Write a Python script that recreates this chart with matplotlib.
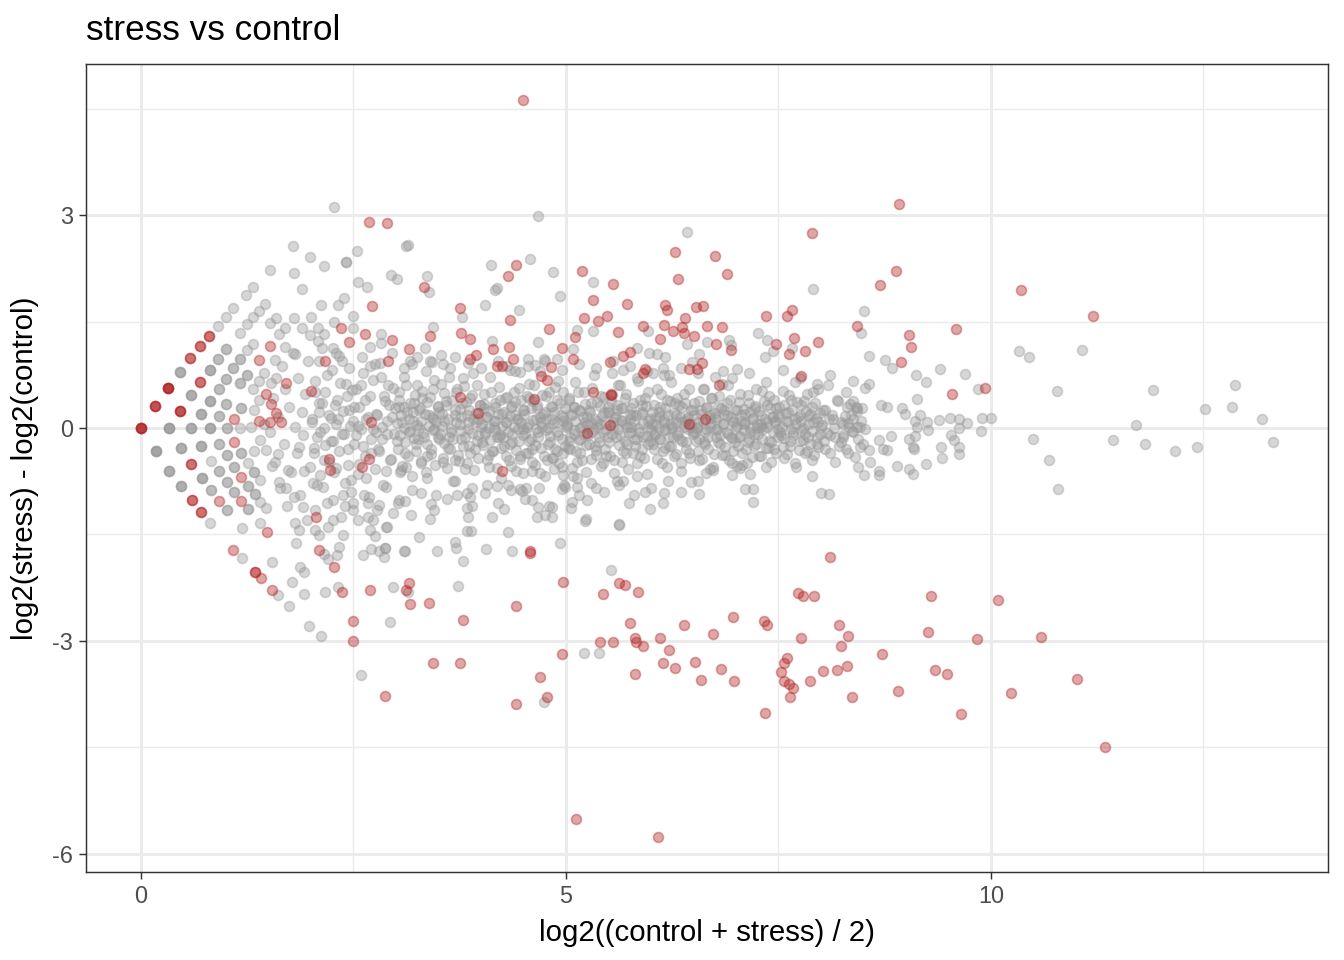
import numpy as np
import matplotlib
matplotlib.use("Agg")
import matplotlib.pyplot as plt

# ---------------- data (A = log2 mean, M = log2 fold change) ----------------
# discrete low-count lattice points (x, y, number of genes on that spot)
lat_gray_x = [0.18,0.33,0.47,0.33,0.59,0.71,0.47,0.72,0.81,0.92,0.92,1.01,1.01,1.09,1.01,1.18,1.09,1.01,1.26,1.26,1.33,1.40,1.47,1.33,1.26,1.40,1.34,1.40,1.47,1.40,0.82,0.82,0.81,1.19,1.19,
              0.46,0.59,0.81,0.81,0.71,0.91,1.00,1.08,1.00,0.92,1.00,0.92,1.16,1.25,1.16,1.18,1.25,1.32,1.39,1.32,1.33,1.16,1.25,1.16,1.30,1.45]
lat_gray_y = [-0.33,0.00,-0.28,-0.60,0.00,-0.25,-0.82,-0.70,0.00,-0.23,-0.61,-0.38,0.00,-0.55,-0.76,-0.35,-0.90,-1.15,-0.82,-1.14,-0.62,-0.17,-0.31,-0.32,-0.49,-0.73,-0.93,-1.04,-1.13,-1.34,-0.46,-0.87,-1.34,-1.41,-1.83,
              0.79,0.46,0.82,0.38,0.20,0.97,1.11,0.85,0.69,0.55,0.34,0.17,0.97,0.75,0.63,0.28,1.10,1.18,0.66,0.55,0.25,1.34,1.46,0.00,0.02,0.05]
lat_gray_n = [4,4,3,3,3,3,3,3,3,2,2,2,2,2,2,2,2,2,2,2,2,1,1,1,1,1,2,1,1,1,1,2,1,1,1,
              3,3,3,3,3,2,2,2,2,2,2,2,2,2,2,2,1,1,1,1,1,1,1,1,1,1]

lat_red_x = [0.00,0.16,0.32,0.46,0.69,0.58,0.69,0.80,0.59,0.60,0.71,1.09,1.09,1.18,0.92,1.18,1.34]
lat_red_y = [0.00,0.31,0.56,0.24,0.65,0.99,1.16,1.30,-0.51,-1.01,-1.18,0.13,-0.20,-0.69,-1.03,-1.03,-2.03]
lat_red_n = [4,3,4,3,2,2,2,2,2,2,2,1,1,1,1,1,2]

# significant genes (red)
red_x = [4.58,4.58,3.15,3.16,3.39,3.79,4.41,4.96,5.44,5.62,5.69,5.85,5.75,5.40,5.55,5.81,5.82,5.91,6.11,6.39,
         6.21,6.14,6.28,5.81,6.52,6.73,6.96,6.82,6.59,6.98,7.33,7.36,7.76,7.73,7.79,7.92,7.60,7.56,7.53,7.56,
         7.62,7.67,7.64,7.87,7.34,3.44,3.75,4.69,4.78,4.41,4.95,5.12,6.08,8.11,8.21,8.32,8.24,8.02,8.19,8.31,
         8.36,8.72,8.91,9.29,9.26,9.34,9.48,9.65,9.84,10.08,10.24,10.59,11.01,11.34,
         4.49,6.28,6.75,6.32,6.89,7.89,5.19,5.55,4.41,4.32,5.32,5.72,3.75,3.33,4.34,5.21,5.38,5.48,6.16,6.19,
         6.53,6.61,6.40,7.35,7.60,7.66,8.42,3.76,3.87,3.40,3.15,4.14,4.33,4.80,4.95,5.11,5.08,4.82,4.38,4.19,
         4.25,3.87,3.94,5.52,5.61,5.91,6.11,6.15,6.26,6.36,6.39,6.51,6.66,6.84,6.76,6.94,7.47,7.68,7.62,7.81,
         7.96,5.67,5.75,5.93,5.91,6.45,6.54,6.60,7.76,4.71,4.78,
         8.92,8.88,8.69,9.04,9.06,8.94,9.59,10.35,11.20,9.93,9.54,
         2.68,2.89,2.72,2.35,2.64,2.95,2.45,2.16,1.39,1.52,1.71,1.47,1.53,1.59,1.39,1.52,1.65,2.00,2.71,
         2.91,3.75,3.96,4.62,4.25,5.32,5.53,5.53,5.25,5.52,6.80,6.45,6.64,
         2.21,2.22,2.60,2.68,2.06,2.09,2.27,2.49,2.49,2.87,2.36,2.69,3.12,1.08,1.41,1.54,1.48]
red_y = [-1.73,-1.76,-2.18,-2.48,-2.46,-2.70,-2.51,-2.17,-2.34,-2.18,-2.21,-2.31,-2.75,-3.01,-3.01,-2.96,-3.01,-3.07,-2.96,-2.77,
         -3.13,-3.31,-3.38,-3.46,-3.30,-2.90,-2.66,-3.39,-3.55,-3.56,-2.72,-2.77,-2.96,-2.32,-2.37,-2.37,-3.24,-3.31,-3.44,-3.56,
         -3.61,-3.66,-3.79,-3.56,-4.01,-3.31,-3.31,-3.51,-3.79,-3.89,-3.18,-5.51,-5.76,-1.82,-2.77,-2.93,-3.07,-3.42,-3.41,-3.35,
         -3.79,-3.18,-3.70,-2.37,-2.87,-3.41,-3.46,-4.03,-2.97,-2.42,-3.73,-2.94,-3.54,-4.49,
         4.62,2.48,2.42,2.10,2.17,2.75,2.21,2.03,2.30,2.14,1.80,1.75,1.69,1.99,1.52,1.55,1.51,1.58,1.73,1.66,
         1.70,1.72,1.55,1.58,1.58,1.66,1.44,1.34,1.25,1.30,1.11,1.11,1.14,1.39,1.13,1.28,0.97,0.86,0.97,0.87,
         0.87,0.97,1.03,0.93,1.35,1.44,1.25,1.45,1.37,1.42,1.34,1.30,1.44,1.42,1.18,1.10,1.18,1.27,1.04,1.08,
         1.21,1.01,1.07,0.83,0.77,0.83,0.83,0.92,0.73,0.73,0.68,
         3.15,2.21,2.01,1.31,1.14,0.93,1.39,1.94,1.58,0.56,0.48,
         2.90,2.89,1.72,1.41,1.32,1.24,1.21,0.94,0.96,1.16,0.63,0.48,0.34,0.21,0.10,0.08,0.08,0.52,0.08,
         0.94,0.44,0.21,0.41,-0.61,0.51,0.48,0.47,-0.07,0.04,0.61,0.06,0.13,
         -0.44,-0.59,-0.55,-0.44,-1.25,-1.72,-1.96,-2.72,-3.00,-3.77,-2.31,-2.28,-2.28,-1.72,-2.11,-2.28,-1.46]

# non-significant genes, sparse outer region (grey)
outer_x = [4.74,5.21,5.39,5.53,3.14,3.73,3.79,3.11,3.48,4.06,4.36,4.93,4.32,3.27,3.69,3.71,3.84,3.88,5.62,5.22,
           2.27,1.79,2.54,1.99,2.15,2.41,2.41,1.52,1.80,2.55,2.66,2.94,3.01,1.89,1.32,1.24,2.12,2.32,2.39,2.49,
           1.46,1.39,1.08,1.00,0.91,1.32,1.59,1.52,1.80,2.00,1.69,1.62,1.90,2.08,2.15,1.99,2.27,2.49,2.82,2.82,
           2.69,2.08,2.26,2.33,1.58,1.45,1.69,1.81,1.53,1.59,1.39,
           4.67,3.12,3.14,6.42,7.91,5.32,4.85,4.58,4.12,4.16,4.19,4.93,4.05,4.45,3.78,3.36,3.39,3.44,
           8.51,8.47,10.33,10.45,11.07,10.78,11.91,12.87,12.52,12.84,13.19,13.32,11.71,11.44,11.81,12.16,12.42,10.49,10.68,10.79,
           9.89,10.00,9.85,9.69,9.40,9.12,9.24,9.13,8.56,8.75,8.84,8.38,8.52,8.56,8.38,8.31,8.42,8.71,8.78,8.95,
           8.99,9.16,9.25,9.11,9.13,9.39,9.52,9.62,9.72,9.62,9.88,9.26,9.53,9.56,9.62,9.62,9.41,9.42,9.24,9.04,
           9.08,8.89,9.04,9.11,9.08,9.09,8.82,8.68,8.73,8.78,8.58,8.68,8.68,8.51,8.46,8.56,8.26,8.33,8.42,8.52,
           5.32,5.13,5.96,5.84,5.98,6.07,6.16,6.42,6.56,6.66,6.92,6.94,7.26,7.36,7.44,7.34,7.66,8.11,7.01,6.85,
           6.48,5.54,5.67,6.14,6.21,6.02,5.08,4.67,4.55,4.64,4.74,4.89,4.34,4.46,3.53,3.19,3.34,3.42,4.13,
           7.89,8.00,8.09,7.20,7.11,7.20,6.56,6.47,6.55,6.95,7.16,7.05,7.01,6.73,6.65,
           3.11,3.41,3.40,3.84,3.87,3.84,3.85,4.13,4.27,4.07,4.19,4.32,4.46,4.48,4.53,4.60,4.67,4.66,4.75,4.83,
           4.83,4.95,4.99,5.07,5.06,5.13,5.25,5.23,5.35,5.62,5.74,5.93,5.99,6.15,6.14,5.83,5.60,5.67,5.13,5.08,
           4.96,4.86,4.60,4.49,
           1.54,1.78,1.92,1.87,1.92,2.16,2.32,2.96,2.93,1.98,2.12,2.59,2.15,2.20,2.31,1.82,2.09,2.05,2.38,2.61,
           2.75,2.87,2.87,3.09,2.71,2.80,2.86,2.69,2.67,1.61,1.74,
           1.54,1.61,1.73,1.86,1.92,1.62,1.71,1.80,1.91,1.81,1.86,2.02,2.14,2.26,2.38,2.49,2.49,2.47,2.68,2.80,
           2.88,3.04,3.06,2.73,2.88,2.26,2.33]
outer_y = [-3.86,-3.17,-3.17,-2.00,-2.31,-2.23,-1.87,-1.73,-1.73,-1.70,-1.73,-1.62,-1.46,-1.54,-1.61,-1.69,-1.45,-1.45,-1.37,-1.31,
           3.11,2.56,2.49,2.41,2.28,2.34,2.34,2.23,2.18,2.06,1.99,2.15,2.10,1.96,1.99,1.87,1.73,1.73,1.83,1.58,
           1.75,1.65,1.69,1.56,1.44,1.56,1.55,1.48,1.55,1.56,1.41,1.32,1.41,1.41,1.32,1.31,1.49,1.41,1.32,1.20,
           1.14,1.23,1.13,1.01,0.96,0.77,1.14,1.04,0.63,0.70,0.39,
           2.99,2.56,2.58,2.76,1.96,2.06,2.20,2.38,2.30,1.94,1.97,1.86,1.73,1.66,1.56,2.14,1.92,1.42,
           1.65,1.34,1.08,1.00,1.10,0.52,0.54,0.61,0.27,0.30,0.13,-0.20,0.04,-0.17,-0.23,-0.32,-0.27,-0.15,-0.45,-0.86,
           0.14,0.14,0.55,0.76,0.83,0.75,0.65,0.41,1.01,0.96,0.84,0.66,0.56,0.62,0.38,0.30,0.28,0.32,0.30,0.28,
           0.20,0.18,0.08,0.10,0.01,0.11,0.14,0.13,0.07,0.00,-0.04,-0.03,-0.10,-0.17,-0.27,-0.37,-0.27,-0.42,-0.51,-0.58,
           -0.65,-0.54,-0.15,-0.11,-0.27,-0.30,-0.11,-0.17,-0.30,-0.31,-0.48,-0.61,-0.66,-0.66,-0.27,-0.31,-0.13,0.01,0.01,-0.01,
           1.37,1.38,1.37,1.13,1.06,1.04,1.00,1.18,1.04,1.21,1.24,1.17,1.34,1.24,1.08,1.00,1.13,0.75,0.83,0.80,
           0.93,0.77,0.82,0.85,0.75,0.78,1.11,1.21,0.97,0.89,0.97,0.97,0.82,0.79,1.03,0.90,1.13,0.93,1.23,
           -0.68,-0.92,-0.93,-1.04,-0.86,-0.86,-0.93,-0.76,-0.75,-0.66,-0.65,-0.56,-0.53,-0.59,-0.63,
           -1.03,-1.07,-1.28,-0.92,-0.97,-1.13,-1.25,-1.25,-1.14,-0.80,-0.82,-0.80,-0.86,-0.89,-0.84,-1.01,-1.11,-1.25,-1.22,-1.11,
           -1.25,-0.86,-0.83,-1.04,-1.13,-0.83,-1.01,-1.28,-0.85,-1.35,-1.06,-0.90,-1.14,-0.91,-1.05,-0.68,-0.75,-0.74,-0.71,-0.67,
           -0.66,-0.58,-0.60,-0.63,
           -1.89,-2.17,-2.34,-1.96,-2.03,-2.31,-2.24,-2.24,-2.73,-2.79,-2.93,-3.48,-1.77,-1.85,-1.79,-1.62,-1.51,-1.44,-1.51,-1.79,
           -1.52,-1.69,-1.69,-1.73,-1.70,-1.73,-1.82,-1.44,-1.25,-2.35,-2.51,
           -0.53,-0.36,-0.59,-0.27,-0.61,-0.76,-0.85,-0.97,-1.11,-1.34,-1.44,-0.77,-0.83,-1.01,-0.94,-1.15,-1.05,-0.73,-0.97,-1.08,
           -0.83,-1.01,-0.59,-1.30,-1.39,-1.30,-1.68]

# non-significant genes, central cloud (grey), part 1
core_x = [1.52,1.55,1.58,1.61,1.63,1.66,1.68,1.70,1.72,1.74,1.77,1.79,1.81,1.83,1.85,1.87,1.89,1.91,1.93,1.95,1.97,1.99,
          2.01,2.03,2.05,2.07,2.09,2.11,2.13,2.15,2.17,2.19,2.21,2.23,2.25,2.27,2.29,2.31,2.33,2.35,2.37,2.39,2.41,2.43,2.45,2.47,2.49,
          2.51,2.53,2.55,2.57,2.59,2.61,2.63,2.65,2.67,2.69,2.71,2.73,2.75,2.77,2.79,2.81,2.83,2.85,2.87,2.89,2.91,2.93,2.95,2.97,2.99,
          3.01,3.03,3.05,3.07,3.09,3.11,3.13,3.15,3.17,3.19,3.21,3.23,3.25,3.27,3.29,3.31,3.33,3.35,3.37,3.39,3.41,3.43,3.45,3.47,3.49,
          3.04,3.12,3.20,3.28,3.36,3.44,
          3.51,3.53,3.55,3.57,3.59,3.61,3.63,3.65,3.67,3.69,3.71,3.73,3.75,3.77,3.79,3.81,3.83,3.85,3.87,3.89,3.91,3.93,3.95,3.97,3.99,
          3.54,3.62,3.70,3.78,3.86,3.94,
          4.01,4.03,4.05,4.07,4.09,4.11,4.13,4.15,4.17,4.19,4.21,4.23,4.25,4.27,4.29,4.31,4.33,4.35,4.37,4.39,4.41,4.43,4.45,4.47,4.49,
          4.04,4.10,4.16,4.22,4.28,4.34,4.40,4.46,
          4.51,4.53,4.55,4.57,4.59,4.61,4.63,4.65,4.67,4.69,4.71,4.73,4.75,4.77,4.79,4.81,4.83,4.85,4.87,4.89,4.91,4.93,4.95,4.97,4.99,
          4.54,4.60,4.66,4.72,4.78,4.84,4.90,4.96,
          5.01,5.03,5.05,5.07,5.09,5.11,5.13,5.15,5.17,5.19,5.21,5.23,5.25,5.27,5.29,5.31,5.33,5.35,5.37,5.39,5.41,5.43,5.45,5.47,5.49,
          5.04,5.10,5.16,5.22,5.28,5.34,5.40,5.46,
          5.51,5.53,5.55,5.57,5.59,5.61,5.63,5.65,5.67,5.69,5.71,5.73,5.75,5.77,5.79,5.81,5.83,5.85,5.87,5.89,5.91,5.93,5.95,5.97,5.99,
          5.54,5.60,5.66,5.72,5.78,5.84,5.90,5.96,
          6.01,6.03,6.05,6.07,6.09,6.11,6.13,6.15,6.17,6.19,6.21,6.23,6.25,6.27,6.29,6.31,6.33,6.35,6.37,6.39,6.41,6.43,6.45,6.47,6.49,
          6.04,6.10,6.16,6.22,6.28,6.34,6.40,6.46,
          6.51,6.53,6.55,6.57,6.59,6.61,6.63,6.65,6.67,6.69,6.71,6.73,6.75,6.77,6.79,6.81,6.83,6.85,6.87,6.89,6.91,6.93,6.95,6.97,6.99,
          6.54,6.62,6.70,6.78,6.86,6.94,
          7.01,7.03,7.05,7.07,7.09,7.11,7.13,7.15,7.17,7.19,7.21,7.23,7.25,7.27,7.29,7.31,7.33,7.35,7.37,7.39,7.41,7.43,7.45,7.47,7.49,
          7.06,7.14,7.22,7.30,7.38,7.46,
          7.51,7.53,7.55,7.57,7.59,7.61,7.63,7.65,7.67,7.69,7.71,7.73,7.75,7.77,7.79,7.81,7.83,7.85,7.87,7.89,7.91,7.93,7.95,7.97,7.99,
          8.02,8.05,8.08,8.11,8.14,8.17,8.20,8.23,8.26,8.29,8.32,8.35,8.38,8.41,8.44,8.47,8.49,
          2.10,2.30,2.45,2.60,2.75,2.95,3.10,3.25,3.40,3.55,3.70,3.85,4.00,4.20,4.40,4.55,4.75,4.95,5.15,5.35,5.55,5.75,5.95,6.15,6.35,
          6.55,6.75,6.95,7.15,7.35,7.55,7.75,7.95,
          2.05,2.20,2.40,2.55,2.62,2.78,2.90,3.02,3.18,3.30,3.45,3.60,3.72,3.90,4.05,4.20,4.35,4.52,4.68,4.80,4.98,5.15,5.30,5.45,5.62,
          5.80,6.00,6.20,6.35]
core_y = [-0.05,0.42,-0.48,0.15,-0.85,0.88,-0.22,0.55,-1.10,0.30,-0.62,1.05,0.02,-0.35,0.70,-0.95,0.22,-0.10,0.48,-1.30,0.95,-0.55,
          0.12,-0.28,0.66,-0.80,0.35,-0.05,1.12,-0.45,0.50,-1.05,0.18,-0.18,0.82,-0.62,0.05,0.40,-0.33,-1.25,0.95,-0.08,0.62,-0.52,0.25,-0.90,0.10,
          -0.22,0.55,-0.65,0.30,-0.02,0.78,-0.40,0.12,-1.05,0.45,-0.15,0.68,-0.58,0.20,-0.30,0.92,0.02,-0.80,0.38,-0.08,0.60,-0.45,0.15,-1.20,0.28,
          -0.18,0.50,-0.62,0.08,0.72,-0.35,0.22,-0.05,0.95,-0.88,0.35,-0.22,0.60,0.00,-0.50,0.42,-0.12,0.80,-0.70,0.18,-0.30,0.55,-0.02,-0.95,0.30,
          0.30,-0.55,0.10,0.28,-0.40,0.12,
          -0.15,0.62,-0.48,0.10,0.38,-0.28,0.85,-0.05,-0.75,0.25,0.50,-0.38,0.05,-0.15,0.70,-0.58,0.18,-0.02,0.42,-0.85,0.12,-0.30,0.60,-0.10,0.32,
          0.20,-0.12,-0.45,0.35,-0.25,0.08,
          -0.20,0.48,-0.05,0.15,-0.55,0.72,-0.32,0.02,0.35,-0.12,0.58,-0.70,0.20,-0.25,0.08,0.88,-0.45,0.30,-0.08,0.50,-0.60,0.12,-0.18,0.40,-0.02,
          0.28,-0.38,0.10,-0.10,0.42,-0.22,0.18,-0.40,
          0.25,-0.35,0.05,0.62,-0.15,0.38,-0.52,0.12,-0.05,0.80,-0.28,0.20,-0.68,0.45,0.00,-0.20,0.30,-0.42,0.58,0.08,-0.10,0.35,-0.55,0.15,-0.25,
          0.45,-0.30,0.28,0.02,-0.45,0.12,-0.32,0.50,
          0.05,0.42,-0.30,0.18,-0.08,0.65,-0.48,0.25,-0.15,0.02,0.50,-0.62,0.15,-0.22,0.35,-0.05,0.75,-0.38,0.10,-0.12,0.45,-0.50,0.22,-0.02,0.30,
          -0.18,0.30,-0.35,0.08,0.22,-0.25,0.05,-0.30,
          -0.20,0.38,0.02,-0.45,0.15,0.60,-0.10,0.28,-0.32,0.05,0.48,-0.58,0.12,-0.05,0.35,-0.25,0.70,0.00,-0.40,0.20,-0.12,0.42,-0.65,0.10,-0.18,
          -0.08,0.25,0.10,-0.22,0.18,-0.15,0.32,0.02,
          0.22,-0.30,0.05,0.55,-0.15,0.30,-0.50,0.12,-0.02,0.40,-0.25,0.65,0.00,-0.40,0.18,-0.10,0.32,-0.60,0.08,0.48,-0.20,0.15,-0.35,0.25,-0.05,
          -0.10,0.15,-0.28,0.05,0.35,-0.15,0.10,0.02,
          0.35,-0.18,0.08,-0.45,0.20,0.55,-0.05,0.28,-0.30,0.02,0.42,-0.55,0.15,-0.12,0.30,-0.22,0.62,0.05,-0.38,0.18,-0.08,0.40,-0.50,0.10,-0.20,
          0.00,-0.20,0.18,-0.02,0.25,-0.12,
          0.25,-0.12,0.48,-0.35,0.05,0.20,-0.50,0.35,-0.05,0.12,-0.25,0.55,0.00,-0.40,0.18,-0.15,0.38,-0.55,0.08,0.45,-0.20,0.15,-0.30,0.28,-0.02,
          0.10,-0.20,0.28,0.02,-0.28,0.10,
          0.30,-0.10,0.52,-0.42,0.10,0.22,-0.25,0.40,-0.05,0.65,-0.55,0.15,-0.18,0.32,0.00,-0.35,0.48,-0.12,0.20,-0.45,0.08,0.35,-0.22,0.55,-0.08,
          0.25,-0.30,0.60,-0.10,0.12,-0.48,0.38,-0.20,0.05,0.50,-0.35,0.18,-0.05,0.30,-0.55,0.10,-0.22,
          0.95,1.05,0.85,1.00,0.90,1.05,0.85,1.00,0.95,0.90,1.00,0.92,0.85,0.95,0.80,0.88,0.95,0.82,0.90,0.85,0.95,0.88,0.80,0.75,0.85,
          0.78,0.72,0.70,0.78,0.65,0.82,0.70,0.62,
          -1.15,-1.40,-1.10,-1.30,-0.95,-1.15,-1.40,-1.05,-1.22,-0.92,-1.15,-1.00,-0.95,-1.10,-0.92,-1.05,-0.88,-1.00,-0.85,-1.10,-0.80,-0.95,-0.78,-0.90,-0.80,
          -0.95,-0.85,-0.75,-0.90]

# non-significant genes, central cloud (grey), part 2 (the densest band)
core2_x = [2.01,2.03,2.05,2.07,2.09,2.11,2.13,2.15,2.17,2.19,2.21,2.23,
           2.26,2.28,2.30,2.32,2.34,2.36,2.38,2.40,2.42,2.44,2.46,2.48,
           2.51,2.53,2.55,2.57,2.59,2.61,2.63,2.65,2.67,2.69,2.71,2.73,
           2.76,2.78,2.80,2.82,2.84,2.86,2.88,2.90,2.92,2.94,2.96,2.98,
           3.01,3.02,3.04,3.05,3.06,3.07,3.09,3.10,3.11,3.12,3.14,3.15,3.16,3.17,3.19,3.20,3.21,3.22,3.24,3.25,
           3.26,3.27,3.29,3.30,3.31,3.32,3.34,3.35,3.36,3.37,3.39,3.40,3.41,3.42,3.44,3.45,3.46,3.47,3.49,3.50,
           3.51,3.52,3.54,3.55,3.56,3.57,3.59,3.60,3.61,3.62,3.64,3.65,3.66,3.67,3.69,3.70,3.71,3.72,3.74,3.75,
           3.76,3.77,3.79,3.80,3.81,3.82,3.84,3.85,3.86,3.87,3.89,3.90,3.91,3.92,3.94,3.95,3.96,3.97,3.99,4.00,
           4.01,4.02,4.04,4.05,4.06,4.07,4.09,4.10,4.11,4.12,4.14,4.15,4.16,4.17,4.19,4.20,4.21,4.22,4.24,4.25,
           4.26,4.27,4.29,4.30,4.31,4.32,4.34,4.35,4.36,4.37,4.39,4.40,4.41,4.42,4.44,4.45,4.46,4.47,4.49,4.50,
           4.51,4.52,4.54,4.55,4.56,4.57,4.59,4.60,4.61,4.62,4.64,4.65,4.66,4.67,4.69,4.70,4.71,4.72,4.74,4.75,
           4.76,4.77,4.79,4.80,4.81,4.82,4.84,4.85,4.86,4.87,4.89,4.90,4.91,4.92,4.94,4.95,4.96,4.97,4.99,5.00,
           5.01,5.02,5.04,5.05,5.06,5.07,5.09,5.10,5.11,5.12,5.14,5.15,5.16,5.17,5.19,5.20,5.21,5.22,5.24,5.25,
           5.26,5.27,5.29,5.30,5.31,5.32,5.34,5.35,5.36,5.37,5.39,5.40,5.41,5.42,5.44,5.45,5.46,5.47,5.49,5.50,
           5.51,5.52,5.54,5.55,5.56,5.57,5.59,5.60,5.61,5.62,5.64,5.65,5.66,5.67,5.69,5.70,5.71,5.72,5.74,5.75,
           5.76,5.77,5.79,5.80,5.81,5.82,5.84,5.85,5.86,5.87,5.89,5.90,5.91,5.92,5.94,5.95,5.96,5.97,5.99,6.00,
           6.01,6.02,6.04,6.05,6.06,6.07,6.09,6.10,6.11,6.12,6.14,6.15,6.16,6.17,6.19,6.20,6.21,6.22,6.24,6.25,
           6.26,6.27,6.29,6.30,6.31,6.32,6.34,6.35,6.36,6.37,6.39,6.40,6.41,6.42,6.44,6.45,6.46,6.47,6.49,6.50,
           6.51,6.52,6.54,6.55,6.56,6.57,6.59,6.60,6.61,6.62,6.64,6.65,6.66,6.67,6.69,6.70,6.71,6.72,6.74,6.75,
           6.76,6.77,6.79,6.80,6.81,6.82,6.84,6.85,6.86,6.87,6.89,6.90,6.91,6.92,6.94,6.95,6.96,6.97,6.99,7.00,
           7.01,7.02,7.04,7.05,7.06,7.07,7.09,7.10,7.11,7.12,7.14,7.15,7.16,7.17,7.19,7.20,7.21,7.22,7.24,7.25,
           7.26,7.27,7.29,7.30,7.31,7.32,7.34,7.35,7.36,7.37,7.39,7.40,7.41,7.42,7.44,7.45,7.46,7.47,7.49,7.50,
           7.51,7.52,7.54,7.55,7.56,7.57,7.59,7.60,7.61,7.62,7.64,7.65,7.66,7.67,7.69,7.70,7.71,7.72,7.74,7.75,
           7.76,7.77,7.79,7.80,7.81,7.82,7.84,7.85,7.86,7.87,7.89,7.90,7.91,7.92,7.94,7.95,7.96,7.97,7.99,8.00,
           8.01,8.03,8.05,8.07,8.09,8.11,8.13,8.15,8.17,8.19,8.21,8.23,
           8.26,8.28,8.30,8.32,8.34,8.36,8.38,8.40,8.42,8.44,8.46,8.48]
core2_y = [0.08,-0.35,0.50,-0.13,0.22,-0.66,0.35,0.00,-0.24,0.74,-0.48,0.14,
           -0.19,0.32,-0.56,0.13,0.64,-0.08,0.24,-0.77,0.45,-0.29,0.03,0.53,
           0.29,-0.10,0.03,-0.51,0.61,-0.26,0.40,-0.70,0.16,0.88,-0.35,-0.02,
           -0.05,0.19,-0.32,0.72,-0.16,0.45,-0.61,0.10,0.32,-0.43,0.56,-0.08,
           0.07,-0.29,0.40,-0.10,0.18,-0.53,0.29,0.00,-0.20,0.60,-0.39,0.12,-0.04,0.35,-0.68,0.23,-0.14,0.47,-0.33,0.04,
           -0.16,0.26,-0.46,0.10,0.52,-0.07,0.20,-0.62,0.36,-0.23,0.03,0.43,-0.36,0.16,-0.03,0.68,-0.52,0.08,0.31,-0.12,
           0.23,-0.08,0.03,-0.42,0.49,-0.21,0.33,-0.57,0.13,0.72,-0.29,-0.01,0.39,-0.16,0.18,-0.75,0.09,0.55,-0.47,0.27,
           -0.04,0.16,-0.26,0.59,-0.13,0.36,-0.49,0.08,0.26,-0.35,0.46,-0.07,0.78,-0.59,0.21,-0.18,0.12,-0.42,0.33,0.01,
           0.06,-0.24,0.34,-0.09,0.15,-0.45,0.24,0.00,-0.17,0.51,-0.33,0.10,-0.03,0.30,-0.57,0.20,-0.12,0.40,-0.28,0.03,
           -0.13,0.22,-0.39,0.09,0.44,-0.06,0.17,-0.53,0.31,-0.20,0.02,0.36,-0.31,0.13,-0.02,0.57,-0.44,0.07,0.26,-0.10,
           0.20,-0.07,0.02,-0.35,0.42,-0.18,0.28,-0.48,0.11,0.61,-0.24,-0.01,0.33,-0.13,0.15,-0.64,0.08,0.46,-0.40,0.23,
           -0.03,0.13,-0.22,0.50,-0.11,0.31,-0.42,0.07,0.22,-0.30,0.39,-0.06,0.66,-0.50,0.18,-0.15,0.10,-0.35,0.28,0.01,
           0.03,-0.28,0.40,-0.12,0.20,-0.57,0.30,-0.03,0.10,-0.33,0.51,-0.17,0.00,0.24,-0.45,0.15,-0.09,0.34,-0.24,0.06,
           -0.10,0.26,0.07,-0.44,0.57,-0.02,0.13,-0.31,0.36,0.02,-0.20,0.31,-0.53,0.17,-0.06,0.44,0.09,-0.39,0.22,-0.13,
           0.23,-0.40,0.46,0.08,-0.64,0.15,-0.13,0.33,-0.01,-0.24,0.61,0.11,-0.48,0.28,-0.18,0.42,-0.35,0.02,-0.07,0.20,
           0.01,0.28,-0.35,0.10,-0.15,0.18,-0.50,0.66,-0.06,0.39,-0.30,0.22,0.07,-0.42,0.31,-0.11,0.50,-0.22,0.13,-0.03,
           0.05,-0.23,0.33,-0.08,0.15,-0.43,0.23,0.00,-0.16,0.48,-0.32,0.09,-0.03,0.28,-0.55,0.19,-0.12,0.38,-0.26,0.03,
           -0.13,0.21,-0.37,0.08,0.42,-0.05,0.16,-0.50,0.29,-0.19,0.02,0.35,-0.29,0.13,-0.02,0.55,-0.42,0.06,0.25,-0.09,
           0.18,-0.06,0.02,-0.32,0.38,-0.16,0.25,-0.44,0.10,0.55,-0.22,-0.01,0.30,-0.12,0.14,-0.58,0.07,0.42,-0.36,0.21,
           -0.03,0.12,-0.20,0.45,-0.10,0.28,-0.38,0.06,0.20,-0.27,0.35,-0.05,0.60,-0.45,0.16,-0.14,0.09,-0.32,0.25,0.01,
           0.03,-0.25,0.36,-0.11,0.18,-0.52,0.27,-0.03,0.09,-0.30,0.46,-0.15,0.00,0.22,-0.41,0.14,-0.08,0.31,-0.22,0.05,
           -0.09,0.24,0.06,-0.40,0.52,-0.02,0.12,-0.28,0.33,0.02,-0.18,0.28,-0.48,0.15,-0.05,0.40,0.08,-0.35,0.20,-0.12,
           0.15,-0.05,0.02,-0.27,0.32,-0.14,0.21,-0.37,0.09,0.47,-0.19,-0.01,0.26,-0.10,0.12,-0.49,0.06,0.36,-0.31,0.18,
           -0.03,0.10,-0.17,0.38,-0.09,0.24,-0.32,0.05,0.17,-0.23,0.30,-0.04,0.51,-0.38,0.14,-0.12,0.08,-0.27,0.21,0.01,
           0.04,-0.19,0.26,-0.07,0.12,-0.35,0.19,0.00,-0.13,0.39,-0.26,0.08,
           -0.10,0.17,-0.30,0.07,0.34,-0.04,0.13,-0.41,0.24,-0.15,0.02,0.28]

# ---------------- assemble ----------------
gx = np.concatenate([np.repeat(lat_gray_x, lat_gray_n), outer_x, core_x, core2_x])
gy = np.concatenate([np.repeat(lat_gray_y, lat_gray_n), outer_y, core_y, core2_y])
rx = np.concatenate([np.repeat(lat_red_x, lat_red_n), red_x])
ry = np.concatenate([np.repeat(lat_red_y, lat_red_n), red_y])

plt.rcParams['font.family'] = ['Liberation Sans', 'DejaVu Sans']

fig = plt.figure(figsize=(7, 5), dpi=192)
ax = fig.add_axes([86/1344, 1-872/960, (1328-86)/1344, (872-64)/960])

ax.scatter(gx, gy, s=14, color='#999999', alpha=0.4, linewidths=0.6, edgecolors='#999999', zorder=3)
ax.scatter(rx, ry, s=14, color='#B22222', alpha=0.4, linewidths=0.6, edgecolors='#B22222', zorder=4)

ax.set_xlim(-0.647, 13.965)
ax.set_ylim(-6.254, 5.127)
ax.set_xticks([0, 5, 10])
ax.set_xticklabels(['0', '5', '10'])
ax.set_yticks([-6, -3, 0, 3])
ax.set_yticklabels(['-6', '-3', '0', '3'])
ax.set_xticks([2.5, 7.5, 12.5], minor=True)
ax.set_yticks([-4.5, -1.5, 1.5, 4.5], minor=True)

ax.grid(which='major', color='#EBEBEB', linewidth=1.1, zorder=0)
ax.grid(which='minor', color='#EBEBEB', linewidth=0.55, zorder=0)
ax.set_axisbelow(True)
for sp in ax.spines.values():
    sp.set_color('#333333')
    sp.set_linewidth(0.55)
ax.tick_params(which='major', length=2.75, width=0.55, color='#333333',
               labelsize=8.8, labelcolor='#4D4D4D', pad=2.2)
ax.tick_params(which='minor', length=0)

ax.set_xlabel('log2((control + stress) / 2)', fontsize=11, color='black', labelpad=4)
ax.set_ylabel('log2(stress) - log2(control)', fontsize=11, color='black', labelpad=5)
fig.text(86/1344, 1-40/960, 'stress vs control', fontsize=13.2, color='black',
         ha='left', va='baseline')

fig.savefig('out.png', dpi=192)
